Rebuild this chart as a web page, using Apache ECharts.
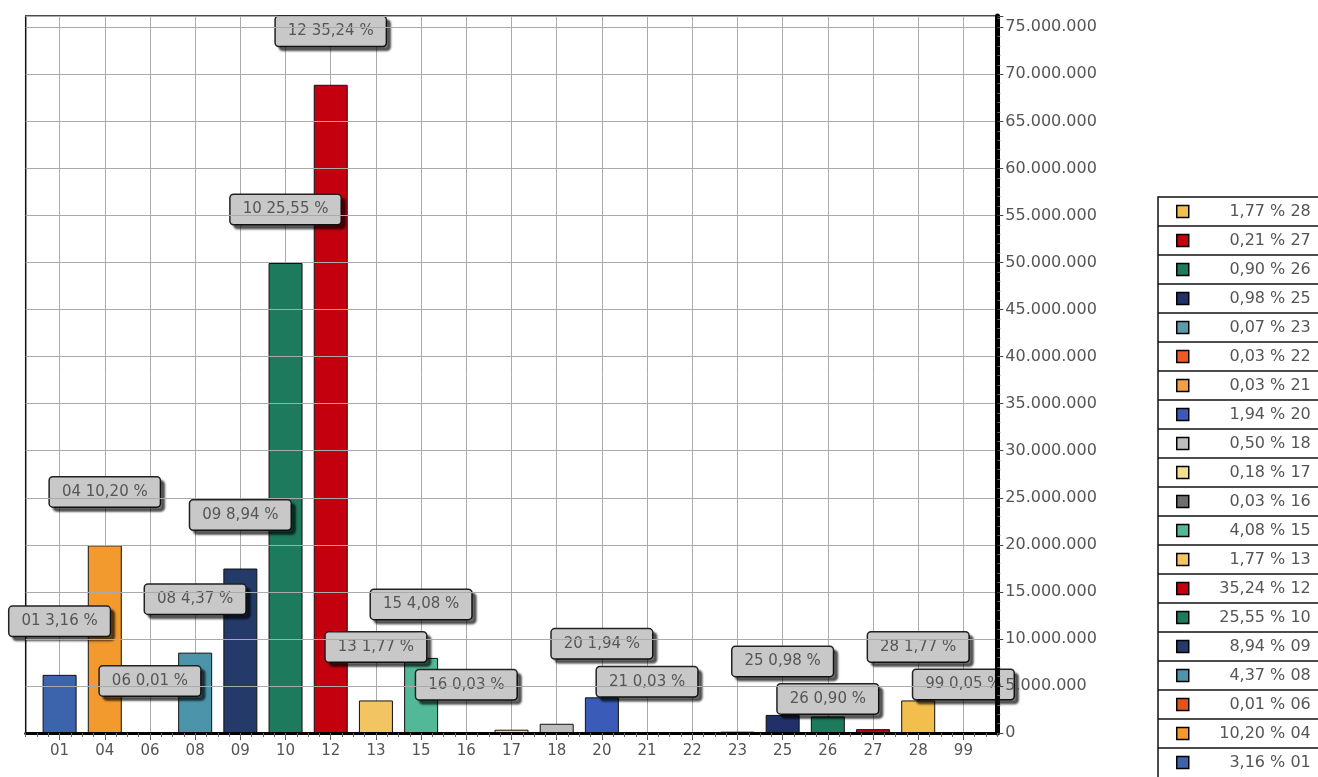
<!DOCTYPE html>
<html><head><meta charset="utf-8">
<script src="https://cdn.jsdelivr.net/npm/echarts@6/dist/echarts.min.js"></script>
<style>html,body{margin:0;padding:0;background:#fff}#c{width:1318px;height:777px}</style>
</head><body><div id="c"></div>
<script>
// ---- data ----
const categories = ['01','04','06','08','09','10','12','13','15','16','17','18','20','21','22','23','25','26','27','28','99'];
const values = [6180000, 19940000, 20000, 8540000, 17480000, 49950000, 68890000, 3460000, 7980000, 60000, 350000, 980000, 3790000, 60000, 60000, 140000, 1920000, 1760000, 410000, 3460000, 100000];
const percents = [3.16, 10.20, 0.01, 4.37, 8.94, 25.55, 35.24, 1.77, 4.08, 0.03, 0.18, 0.50, 1.94, 0.03, 0.03, 0.07, 0.98, 0.90, 0.21, 1.77, 0.05];
const legendOrder = ['28','27','26','25','23','22','21','20','18','17','16','15','13','12','10','09','08','06','04','01'];
const yMin = 0, yMax = 76200000, yStep = 5000000;

// ---- style ----
const colors = ['#3b64ad','#f39a2e','#e3541c','#4b94aa','#243a68','#1d7a5c','#c5000e','#f2c462','#52b898','#6e6e6e','#f3df8c','#bdbdbd','#3a5cb8','#f0a048','#ef5a24','#5a9aaa','#22306a','#1d7a5c','#c5000e','#f2bf4e','#e8c060'];
const FONT = 'DejaVu Sans';
const TXT = '#555';
const hiddenLabels = ['17','18','22','23','27'];
const labelDist = {'26': 3, '16': 33, '99': 33, '21': 36, '06': 37};

function fmtPct(p){ return p.toFixed(2).replace('.', ','); }
function fmtNum(v){ return String(Math.round(v)).replace(/\B(?=(\d{3})+(?!\d))/g, '.'); }

const series = categories.map((cat, i) => {
  const data = categories.map((c, j) => j === i ? values[i] : '-');
  return {
    name: cat,
    type: 'bar',
    xAxisIndex: 1, yAxisIndex: 1,
    stack: 'all',
    barWidth: 34,
    itemStyle: { color: colors[i], borderColor: '#111', borderWidth: 1 },
    label: {
      show: hiddenLabels.indexOf(cat) < 0,
      position: 'top',
      distance: labelDist[cat] !== undefined ? labelDist[cat] : 39,
      formatter: cat + ' ' + fmtPct(percents[i]) + ' %',
      fontFamily: FONT, fontSize: 15, color: TXT, lineHeight: 17,
      backgroundColor: '#c8c8c8', borderColor: '#222', borderWidth: 1.5, borderRadius: 3,
      padding: [6, 12],
      shadowColor: 'rgba(0,0,0,0.55)', shadowOffsetX: 4, shadowOffsetY: 4, shadowBlur: 2
    },
    data: data
  };
});

const legendLines = [];
for (let k = 1; k < 20; k++) {
  legendLines.push({ type: 'line', shape: { x1: 1158, y1: 197 + 29 * k, x2: 1318, y2: 197 + 29 * k }, style: { stroke: '#111', lineWidth: 1.5 }, z: 1 });
}

const chart = echarts.init(document.getElementById('c'), null, { renderer: 'canvas' });
chart.setOption({
  animation: false,
  backgroundColor: '#fff',
  grid: [
    { left: 25.7, right: 320.7, top: 16, bottom: 44, show: true, borderColor: '#111', borderWidth: 1.5, backgroundColor: '#fff' },
    { left: 37, right: 332, top: 16, bottom: 44 }
  ],
  xAxis: [
    { type: 'value', gridIndex: 0, min: -0.75, max: 20.75, interval: 0.25, z: 5,
      axisLine: { show: true, onZero: false, lineStyle: { color: '#000', width: 3 } },
      axisTick: { show: true, length: 4, lineStyle: { color: '#666' } },
      axisLabel: { show: false }, splitLine: { show: false } },
    { type: 'category', gridIndex: 1, data: categories, boundaryGap: true,
      axisLine: { show: false },
      axisTick: { show: true, alignWithLabel: true, length: 7, lineStyle: { color: '#555' } },
      axisLabel: { margin: 11, fontFamily: FONT, fontSize: 15, color: TXT, interval: 0 },
      splitLine: { show: true, alignWithLabel: true, lineStyle: { color: '#aaa', width: 1 } } }
  ],
  yAxis: [
    { type: 'value', gridIndex: 0, position: 'right', min: yMin, max: yMax, interval: yStep, z: 5,
      axisLine: { show: true, onZero: false, lineStyle: { color: '#000', width: 5 } },
      axisTick: { show: true, length: 6, lineStyle: { color: '#444' } },
      minorTick: { show: true, splitNumber: 5, length: 3, lineStyle: { color: '#666' } },
      axisLabel: { show: true, showMaxLabel: false, margin: 8, fontFamily: FONT, fontSize: 16, color: TXT, formatter: v => fmtNum(v) },
      splitLine: { show: true, lineStyle: { color: '#aaa', width: 1 } } },
    { type: 'value', gridIndex: 1, min: yMin, max: yMax, interval: yStep, show: false,
      splitLine: { show: false } }
  ],
  legend: {
    orient: 'vertical', left: 1176, top: 203.5, padding: 0,
    itemWidth: 12, itemHeight: 12, itemGap: 13,
    icon: 'rect',
    itemStyle: { borderColor: '#000', borderWidth: 1.5 },
    data: legendOrder,
    selectedMode: false,
    formatter: name => '{t|' + fmtPct(percents[categories.indexOf(name)]) + ' % ' + name + '}',
    textStyle: { rich: { t: { width: 117, align: 'right', fontFamily: FONT, fontSize: 16, color: TXT } } }
  },
  graphic: [
    { type: 'rect', shape: { x: 1158, y: 197, width: 170, height: 600 }, style: { fill: '#fff', stroke: '#111', lineWidth: 1.5 }, z: 0 }
  ].concat(legendLines),
  series: series
});
</script>
</body></html>
